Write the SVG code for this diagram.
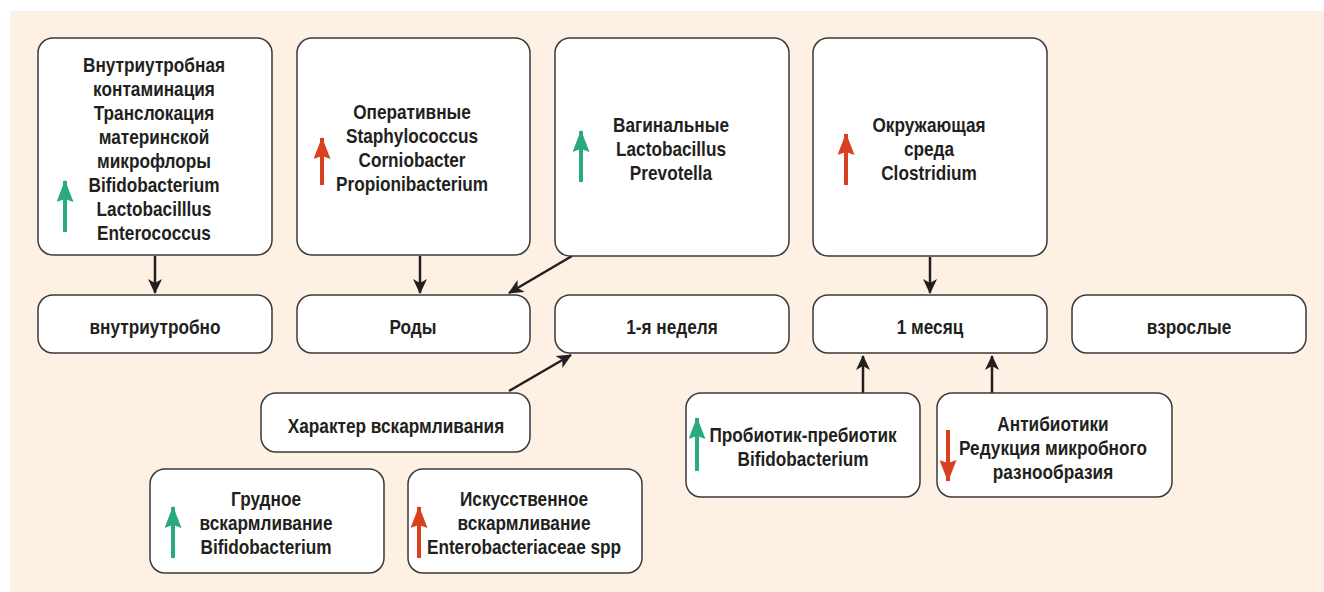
<svg xmlns="http://www.w3.org/2000/svg" width="1324" height="592" viewBox="0 0 1324 592">
<style>
.bx{fill:#fff;stroke:#3a3a3a;stroke-width:1.5}
.t{font-family:"Liberation Sans",Arial,sans-serif;font-weight:bold;font-size:20.5px;fill:#231f20;text-anchor:middle}
.c{stroke:#231f20;stroke-width:2.5;fill:none}
.g{stroke:#2bab7c;stroke-width:4;fill:none}
.r{stroke:#d9401f;stroke-width:4;fill:none}
</style>
<defs>
<marker id="ah" viewBox="0 0 15 14" refX="14" refY="7" markerWidth="15" markerHeight="14" markerUnits="userSpaceOnUse" orient="auto">
<path d="M0,0 L15,7 L0,14 L4,7 Z" fill="#231f20"/>
</marker>
<marker id="ag" viewBox="0 0 22 17" refX="21" refY="8.5" markerWidth="22" markerHeight="17" markerUnits="userSpaceOnUse" orient="auto">
<path d="M0,0 L22,8.5 L0,17 L3,8.5 Z" fill="#2bab7c"/>
</marker>
<marker id="ar" viewBox="0 0 22 17" refX="21" refY="8.5" markerWidth="22" markerHeight="17" markerUnits="userSpaceOnUse" orient="auto">
<path d="M0,0 L22,8.5 L0,17 L3,8.5 Z" fill="#d9401f"/>
</marker>
</defs>
<rect x="10" y="11" width="1314" height="581" fill="#fef0e3"/>

<g id="connectors">
<line class="c" x1="155" y1="256" x2="155" y2="293" marker-end="url(#ah)"/>
<line class="c" x1="420" y1="256" x2="420" y2="293" marker-end="url(#ah)"/>
<line class="c" x1="572" y1="256" x2="509" y2="293" marker-end="url(#ah)"/>
<line class="c" x1="509" y1="391" x2="571" y2="355" marker-end="url(#ah)"/>
<line class="c" x1="930" y1="257" x2="930" y2="293" marker-end="url(#ah)"/>
<line class="c" x1="863" y1="393" x2="863" y2="356" marker-end="url(#ah)"/>
<line class="c" x1="992" y1="393" x2="992" y2="356" marker-end="url(#ah)"/>
</g>

<g id="n1">
<rect class="bx" x="38" y="38" width="234" height="217" rx="15"/>
<line class="g" x1="65" y1="232" x2="65" y2="181" marker-end="url(#ag)"/>
<text class="t" transform="matrix(0.84 0 0 1 154 0)"><tspan x="0" y="72">Внутриутробная</tspan><tspan x="0" y="96">контаминация</tspan><tspan x="0" y="120">Транслокация</tspan><tspan x="0" y="144">материнской</tspan><tspan x="0" y="168">микрофлоры</tspan><tspan x="0" y="192">Bifidobacterium</tspan><tspan x="0" y="216">Lactobacilllus</tspan><tspan x="0" y="240">Enterococcus</tspan></text>
</g>
<g id="n2">
<rect class="bx" x="297" y="38" width="233" height="217" rx="15"/>
<line class="r" x1="322" y1="185" x2="322" y2="138" marker-end="url(#ar)"/>
<text class="t" transform="matrix(0.84 0 0 1 412 0)"><tspan x="0" y="119">Оперативные</tspan><tspan x="0" y="143">Staphylococcus</tspan><tspan x="0" y="167">Corniobacter</tspan><tspan x="0" y="191">Propionibacterium</tspan></text>
</g>
<g id="n3">
<rect class="bx" x="555" y="38" width="234" height="218" rx="15"/>
<line class="g" x1="581" y1="182" x2="581" y2="131" marker-end="url(#ag)"/>
<text class="t" transform="matrix(0.84 0 0 1 671 0)"><tspan x="0" y="132">Вагинальные</tspan><tspan x="0" y="156">Lactobacillus</tspan><tspan x="0" y="180">Prevotella</tspan></text>
</g>
<g id="n4">
<rect class="bx" x="813" y="38" width="234" height="218" rx="15"/>
<line class="r" x1="846" y1="185" x2="846" y2="134" marker-end="url(#ar)"/>
<text class="t" transform="matrix(0.84 0 0 1 929 0)"><tspan x="0" y="132">Окружающая</tspan><tspan x="0" y="156">среда</tspan><tspan x="0" y="180">Clostridium</tspan></text>
</g>

<g id="s1"><rect class="bx" x="38" y="295" width="234" height="58" rx="15"/><text class="t" transform="matrix(0.84 0 0 1 155 0)" x="0" y="334">внутриутробно</text></g>
<g id="s2"><rect class="bx" x="297" y="295" width="233" height="58" rx="15"/><text class="t" transform="matrix(0.84 0 0 1 413 0)" x="0" y="334">Роды</text></g>
<g id="s3"><rect class="bx" x="555" y="295" width="234" height="58" rx="15"/><text class="t" transform="matrix(0.84 0 0 1 672 0)" x="0" y="334">1-я неделя</text></g>
<g id="s4"><rect class="bx" x="813" y="295" width="234" height="58" rx="15"/><text class="t" transform="matrix(0.84 0 0 1 930 0)" x="0" y="334">1 месяц</text></g>
<g id="s5"><rect class="bx" x="1072" y="295" width="234" height="58" rx="15"/><text class="t" transform="matrix(0.84 0 0 1 1189 0)" x="0" y="334">взрослые</text></g>

<g id="feed"><rect class="bx" x="261" y="393" width="269" height="59" rx="15"/><text class="t" transform="matrix(0.84 0 0 1 396 0)" x="0" y="433">Характер вскармливания</text></g>

<g id="breast">
<rect class="bx" x="150" y="469" width="234" height="104" rx="15"/>
<line class="g" x1="173" y1="558" x2="173" y2="507" marker-end="url(#ag)"/>
<text class="t" transform="matrix(0.84 0 0 1 266 0)"><tspan x="0" y="506">Грудное</tspan><tspan x="0" y="530">вскармливание</tspan><tspan x="0" y="554">Bifidobacterium</tspan></text>
</g>
<g id="formula">
<rect class="bx" x="408" y="469" width="234" height="104" rx="15"/>
<line class="r" x1="419" y1="558" x2="419" y2="507" marker-end="url(#ar)"/>
<text class="t" transform="matrix(0.84 0 0 1 524 0)"><tspan x="0" y="506">Искусственное</tspan><tspan x="0" y="530">вскармливание</tspan><tspan x="0" y="554">Enterobacteriaceae spp</tspan></text>
</g>
<g id="probiotic">
<rect class="bx" x="686" y="393" width="234" height="104" rx="15"/>
<line class="g" x1="697" y1="471" x2="697" y2="418" marker-end="url(#ag)"/>
<text class="t" transform="matrix(0.84 0 0 1 803 0)"><tspan x="0" y="442">Пробиотик-пребиотик</tspan><tspan x="0" y="466">Bifidobacterium</tspan></text>
</g>
<g id="antibiotic">
<rect class="bx" x="937" y="393" width="235" height="104" rx="15"/>
<line class="r" x1="948" y1="430" x2="948" y2="481" marker-end="url(#ar)"/>
<text class="t" transform="matrix(0.84 0 0 1 1053 0)"><tspan x="0" y="431">Антибиотики</tspan><tspan x="0" y="455">Редукция микробного</tspan><tspan x="0" y="479">разнообразия</tspan></text>
</g>
</svg>
